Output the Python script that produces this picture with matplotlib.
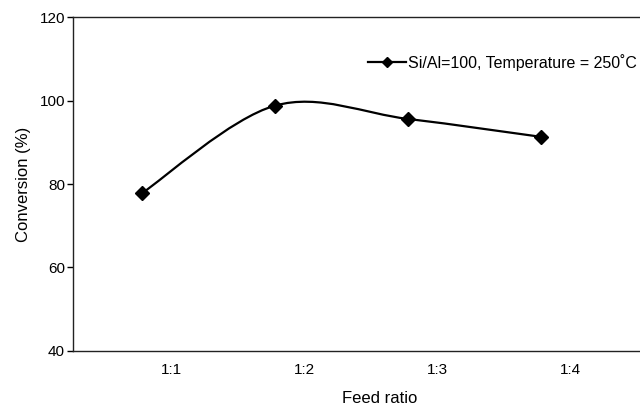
import matplotlib
matplotlib.use('Agg')
import matplotlib.pyplot as plt
from matplotlib.path import Path
from matplotlib.patches import PathPatch
from matplotlib.lines import Line2D
import numpy as np

plt.rcParams['font.family'] = ['Liberation Sans', 'DejaVu Sans']

ratios = ['1:1', '1:2', '1:3', '1:4']
conversion = [77.8, 98.8, 95.6, 91.3]
series_label = 'Si/Al=100, Temperature = 250\u02daC'
yticks = [40, 60, 80, 100, 120]


def smooth_path(x, y):
    # excel-like smoothed line: cubic bezier, catmull-rom control points
    pts = np.column_stack([x, y]).astype(float)
    n = len(pts)
    verts = [pts[0]]
    codes = [Path.MOVETO]
    for i in range(n - 1):
        p0 = pts[i - 1] if i > 0 else pts[i]
        p1 = pts[i]
        p2 = pts[i + 1]
        p3 = pts[i + 2] if i + 2 < n else pts[i + 1]
        verts += [p1 + (p2 - p0) / 6.0, p2 - (p3 - p1) / 6.0, p2]
        codes += [Path.CURVE4] * 3
    return Path(verts, codes)


fig = plt.figure(figsize=(6.4, 4.09), dpi=100)
ax = fig.add_axes([0.1135, 0.142, 0.8865, 0.816])

xs = np.arange(len(ratios))
ax.add_patch(PathPatch(smooth_path(xs, conversion), fill=False,
                       lw=1.6, edgecolor='black', capstyle='round'))
ax.plot(xs, conversion, ls='none', marker='D', ms=7, color='black')

ax.set_xlim(-0.52, 3.74)
ax.set_ylim(40, 120)
ax.set_yticks(yticks)
# category labels sit a bit to the right of the points in the original
ax.set_xticks(xs + 0.22)
ax.set_xticklabels(ratios)
ax.tick_params(axis='y', direction='out', length=4, width=1, labelsize=11, pad=1.5)
ax.tick_params(axis='x', length=0, labelsize=11, pad=9)

for s in ['left', 'bottom', 'top']:
    ax.spines[s].set_color('#222222')
    ax.spines[s].set_linewidth(1.0)
ax.spines['right'].set_visible(False)

ax.set_xlabel('Feed ratio', fontsize=12)
ax.xaxis.set_label_coords(0.542, -0.12)
ax.set_ylabel('Conversion (%)', fontsize=12, labelpad=6)

handle = Line2D([], [], color='black', lw=1.6, marker='D', ms=5)
ax.legend([handle], [series_label], loc='upper right', frameon=False,
          fontsize=11.5, handlelength=2.4, handletextpad=0.1,
          bbox_to_anchor=(1.0, 0.9), borderaxespad=0.1, borderpad=0.1)

fig.savefig('out.png', dpi=100)
